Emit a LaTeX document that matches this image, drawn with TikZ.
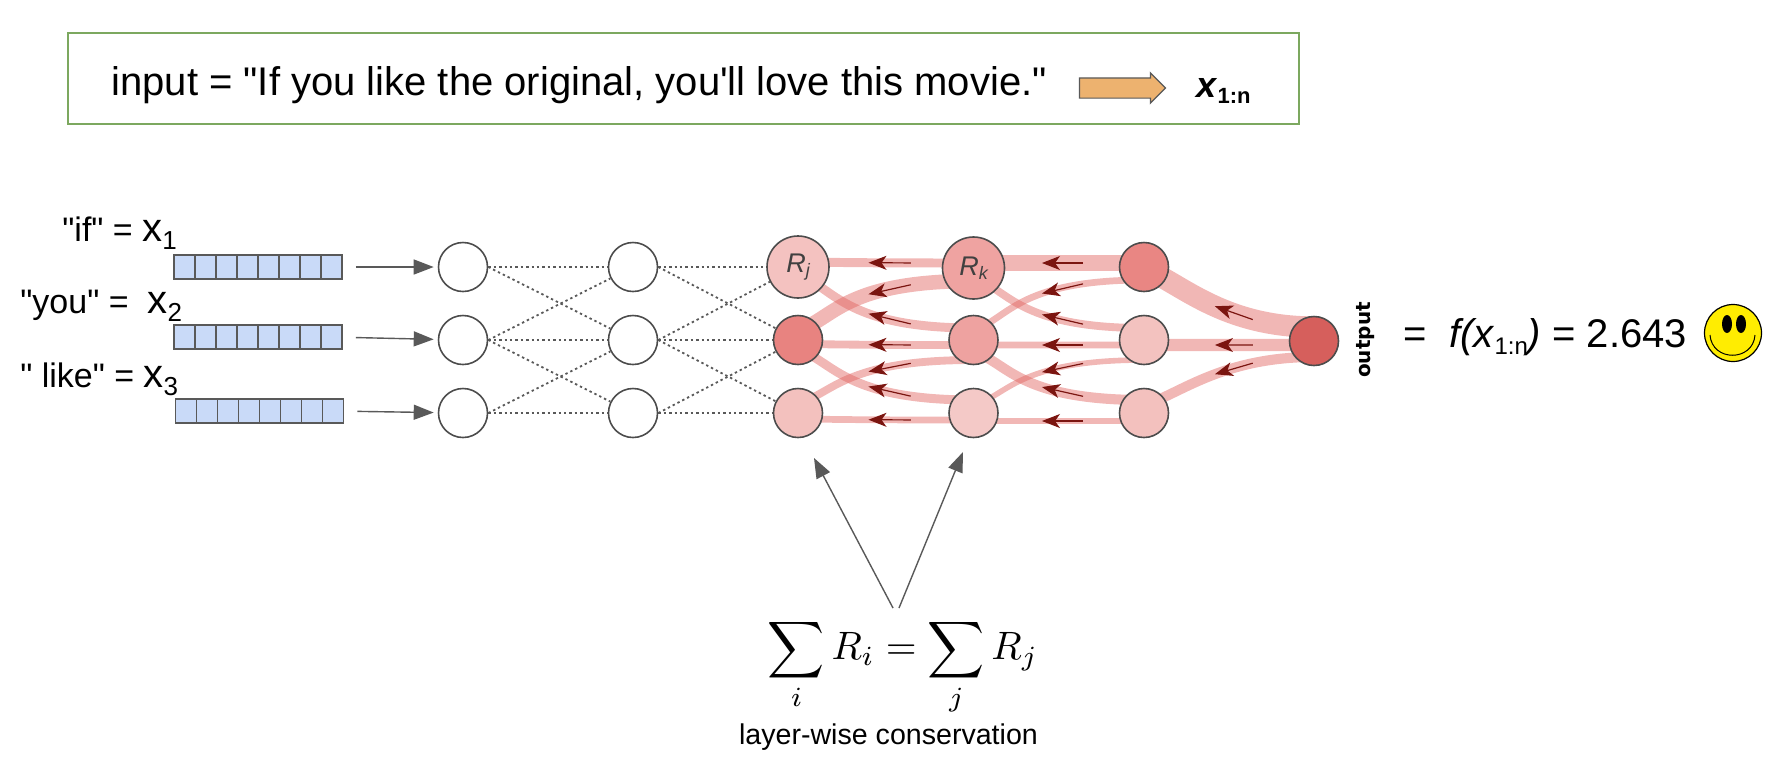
\documentclass[tikz,border=0pt]{standalone}
\usepackage{amsmath}
\usepackage{fontspec}
\newfontfamily\figfont{Liberation Sans}
\newfontfamily\plotfont{DejaVu Sans}
\AtBeginDocument{\figfont}
\usetikzlibrary{arrows.meta}
\usetikzlibrary{backgrounds}
\usetikzlibrary{calc}
\usetikzlibrary{shapes.arrows}

\definecolor{boxgreen}{HTML}{7CA85F}
\definecolor{cellblue}{HTML}{C9DAF8}
\definecolor{linegray}{HTML}{595959}
\definecolor{flowred}{HTML}{E0605C}
\definecolor{tipred}{HTML}{7B1510}
\definecolor{blockorange}{HTML}{EDB26F}

\newcommand{\wordsub}[2]{{\fontsize{20}{24}\selectfont #1}\raisebox{-4pt}{\fontsize{13}{15}\selectfont #2}}
\newcommand{\flowlinks}[4]{%
  \foreach \src/\dst/\dl/\dr/\wid in {#4}
  {
    \coordinate (linkstart) at ($(\src)+(0,\dl)$);
    \coordinate (linkend) at ($(\dst)+(0,\dr)$);
    \coordinate (ctla) at ($(linkstart)!0.2!(linkend)$);
    \coordinate (ctlb) at ($(linkstart)!#1!(linkend)$);
    \draw[flow, line width=\wid*0.56pt] (linkstart) .. controls (ctla) and (ctlb |- linkend) ..
      coordinate[pos=#2] (tiphead) coordinate[pos=#3] (tiptail) (linkend);
    \draw[flowtip] (tiptail) -- (tiphead);
  }
}

\tikzset{
    neuron/.style = {circle, draw=black!70, line width=0.8pt, minimum size=24.5pt, inner sep=0pt},
    bigneuron/.style = {neuron, minimum size=31pt, text=black!75, font=\fontsize{13.5}{16}\selectfont\itshape},
    cell/.style = {draw=linegray, line width=0.8pt, fill=cellblue, minimum width=10.5pt, minimum height=12pt, inner sep=0pt},
    weak/.style = {dash pattern=on 1.2pt off 1.5pt, draw=black!65, line width=0.9pt},
    flow/.style = {draw=flowred, opacity=0.45},
    flowtip/.style = {draw=tipred, line width=0.6pt, -{Stealth[length=9pt, width=7pt, inset=2.5pt]}},
    grayarrow/.style = {draw=linegray, line width=0.7pt, -{Triangle[length=10pt, width=7.5pt]}},
    wordlabel/.style = {anchor=base west, inner sep=0pt, font=\fontsize{17}{20}\selectfont},
}

\begin{document}
\begin{tikzpicture}[x=0.5pt, y=-0.5pt]
    \useasboundingbox (0,0) rectangle (1772,778);

    \node[draw=boxgreen, line width=0.8pt, minimum width=615.5pt, minimum height=45.5pt, inner sep=0pt] (inputbox) at (683.5,78.5) {};
    \node[anchor=base west, inner sep=0pt, font=\fontsize{20}{24}\selectfont] (sentence) at (111,95) {input = "If you like the original, you'll love this movie."};
    \node[single arrow, draw=linegray, line width=0.6pt, fill=blockorange, minimum height=43pt, single arrow head extend=2.5pt, inner sep=0pt] (embedarrow) at (1117.5,88) {\rule{0pt}{9.5pt}};
    \node[anchor=base west, inner sep=0pt, font=\fontsize{18}{22}\selectfont\bfseries] (embedded) at (1196,97) {\textit{x}\raisebox{-3pt}{\fontsize{11}{13}\selectfont 1:n}};

    \node[wordlabel] (word1) at (62,241) {"if" = \wordsub{x}{1}};
    \node[wordlabel] (word2) at (20,313) {"you" = ~\wordsub{x}{2}};
    \node[wordlabel] (word3) at (20,387) {" like" = \wordsub{x}{3}};

    \foreach \r/\y/\x in {1/267/174, 2/337/174, 3/411/175.5}
    {
      \foreach \c in {1,...,8}
        \node[cell] (cell\r-\c) at (\x+10.5+21*\c-21,\y) {};
    }

    \foreach \r/\y in {1/267, 2/340, 3/413}
    {
      \node[neuron] (in\r) at (463,\y) {};
      \node[neuron] (hid\r) at (633,\y) {};
      \draw[grayarrow, shorten <=6.5pt, shorten >=2pt] (cell\r-8) -- (in\r);
    }

    \definecolor{nodefill}{HTML}{F4C2C0}
    \node[bigneuron, fill=nodefill] (rela1) at (798,267) {R\raisebox{-2pt}{\fontsize{9}{10}\selectfont j}};
    \definecolor{nodefill}{HTML}{EFA3A1}
    \node[bigneuron, fill=nodefill] (relb1) at (973.5,268) {R\raisebox{-2pt}{\fontsize{9}{10}\selectfont k}};
    \foreach \name/\x/\y/\col in {rela2/798/340/E88380, rela3/798/413/F3C1BE,
      relb2/973.5/340/EEA2A0, relb3/973.5/413/F4C9C7,
      relc1/1144/267/E98683, relc2/1144/340/F3C2BF, relc3/1144/413/F3C1BE,
      outp/1314/341/D65F5C}
    {
      \definecolor{nodefill}{HTML}{\col}
      \node[neuron, fill=nodefill] (\name) at (\x,\y) {};
    }

    \foreach \a/\b in {1/1, 1/2, 2/1, 2/2, 2/3, 3/2, 3/3}
    {
      \draw[weak] (in\a.east) -- (hid\b);
      \draw[weak] (hid\a.east) -- (rela\b);
    }

    \begin{scope}[on background layer]
      \flowlinks{0.25}{0.62}{0.81}{
        rela1/relb1/-5/-5/8, rela1/relb2/8/-12/8, rela2/relb1/-10/13/13,
        rela2/relb2/4/5/7, rela2/relb3/10/-13/8, rela3/relb2/-10/20/7, rela3/relb3/6/7/6,
        relb1/relc1/-5/-4/14, relb2/relc1/-10/13/6, relb1/relc2/10/-12/7,
        relb2/relc2/5/5/6, relb2/relc3/12/-13/9, relb3/relc2/-8/20/5, relb3/relc3/8/8/5}
      \flowlinks{0.45}{0.55}{0.75}{
        relc1/outp/2/-14/19, relc2/outp/5/4/11, relc3/outp/-8/16/9}
    \end{scope}

    \node[anchor=center, rotate=90, inner sep=0pt, font=\plotfont\fontsize{10}{12}\selectfont\bfseries] (outlabel) at (1366,340) {output};
    \node[anchor=base west, inner sep=0pt, font=\fontsize{20}{24}\selectfont] (outvalue) at (1403,347)
      {= ~\textit{f(x}\raisebox{-3.5pt}{\fontsize{12}{14}\selectfont 1:n}\textit{)} = 2.643};

    \node[circle, draw=black, line width=0.6pt, fill=yellow!95!orange, minimum size=28.5pt, inner sep=0pt] (smiley) at (1733,333) {};
    \fill (1727,324) ellipse (2.5pt and 4.5pt);
    \fill (1741,324) ellipse (2.5pt and 4.5pt);
    \draw[line width=0.5pt] (1710,335) .. controls (1712,362) and (1753,362) .. (1755,335);

    \node[inner sep=0pt, scale=1.98] (sumrule) at (903,667) {$\displaystyle\sum_i R_i=\sum_j R_j$};
    \node[anchor=base, inner sep=0pt, font=\fontsize{14.3}{17}\selectfont] (rulename) at (888.5,744) {layer-wise conservation};

    \coordinate (ruleleft) at (893,608);
    \coordinate (ruleright) at (899,608);
    \coordinate (tipa) at (814,458);
    \coordinate (tipb) at (963,452);
    \draw[grayarrow] (ruleleft) -- (tipa);
    \draw[grayarrow] (ruleright) -- (tipb);
\end{tikzpicture}
\end{document}
